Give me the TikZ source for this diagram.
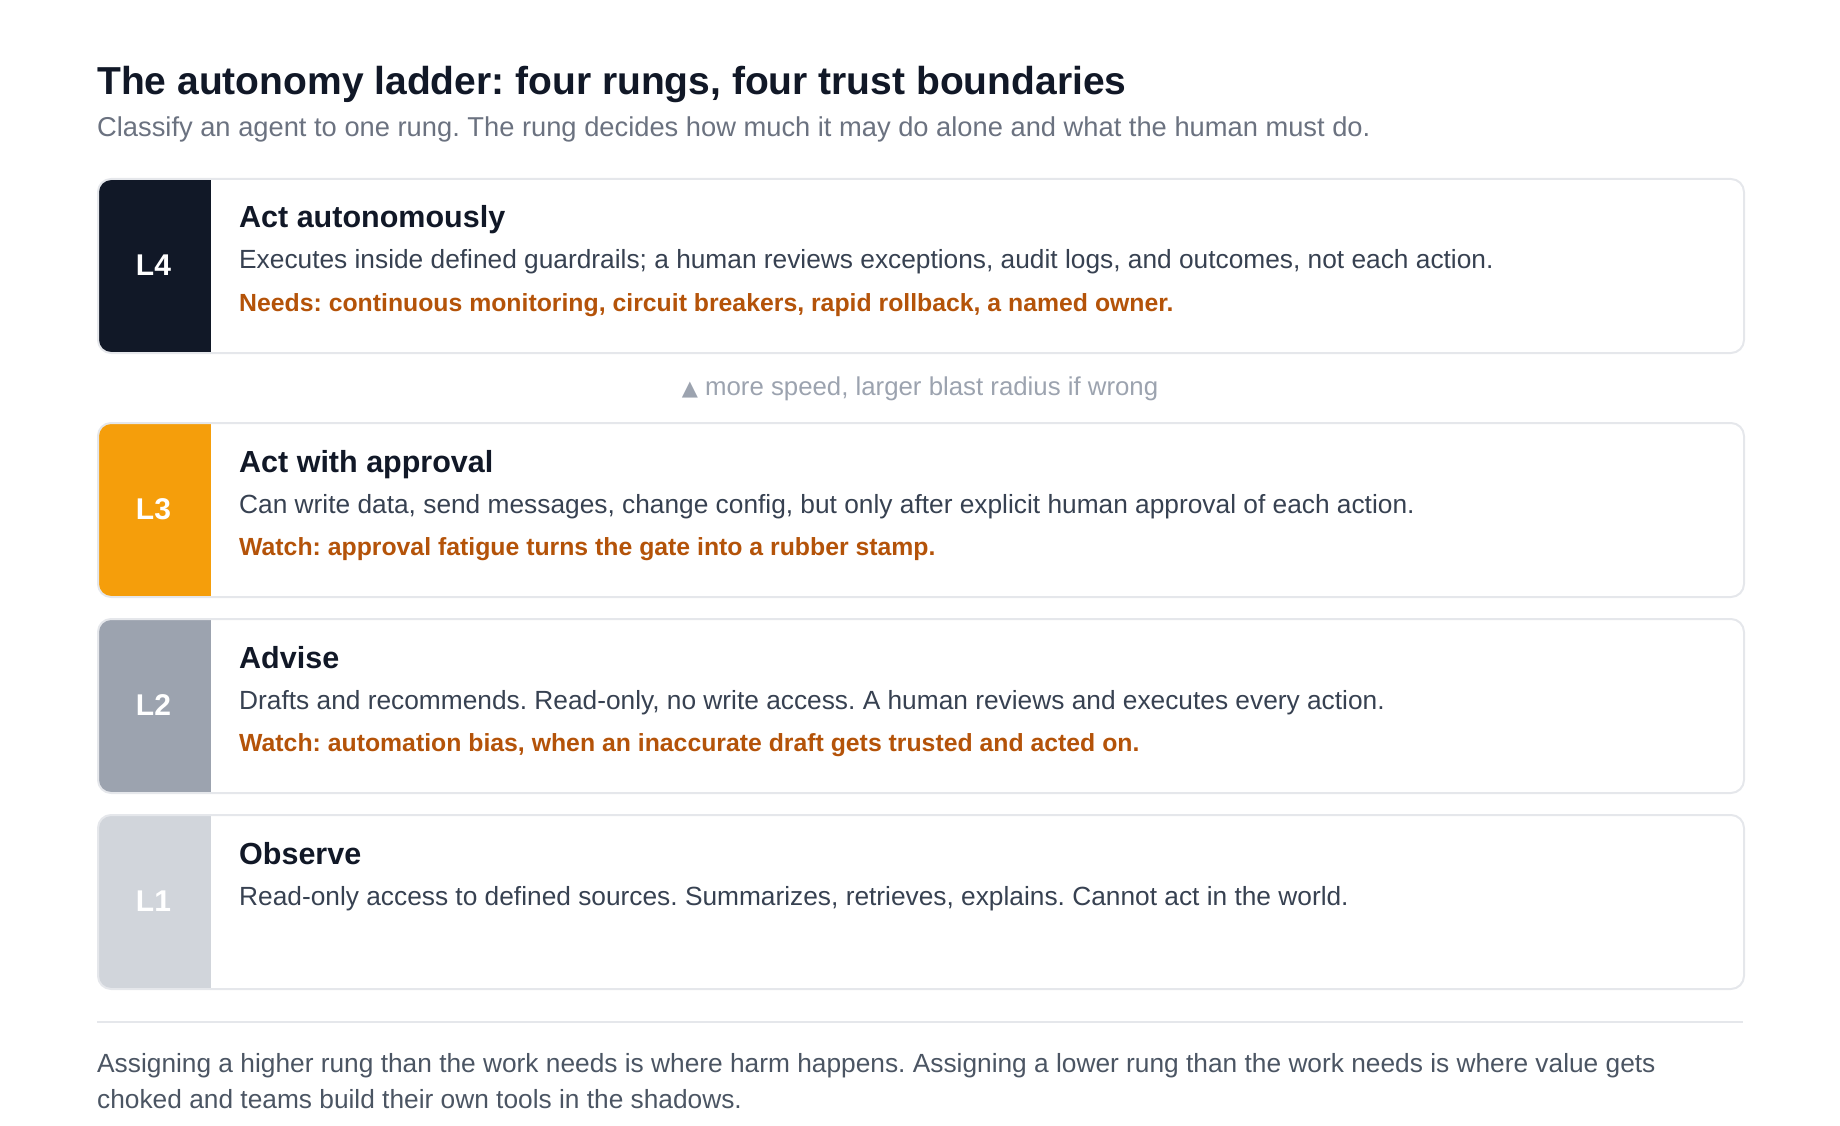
\documentclass[tikz,border=0pt]{standalone}
\usepackage{fontspec}
\setmainfont{Liberation Sans}
\newfontfamily\symfont{DejaVu Sans}
\frenchspacing
\definecolor{ink}{HTML}{111827}
\definecolor{body}{HTML}{374151}
\definecolor{muted}{HTML}{6B7280}
\definecolor{faint}{HTML}{9CA3AF}
\definecolor{foot}{HTML}{4B5563}
\definecolor{warn}{HTML}{B45309}
\definecolor{rungrule}{HTML}{E5E7EB}
\definecolor{tagfour}{HTML}{111827}
\definecolor{tagthree}{HTML}{F59E0B}
\definecolor{tagtwo}{HTML}{9CA3AF}
\definecolor{tagone}{HTML}{D1D5DB}
\begin{document}
\begin{tikzpicture}
[x=1pt,y=-1pt,%
  rungbox/.style={draw=rungrule,line width=2pt,rounded corners=13pt,
    minimum width=1646pt,minimum height=174pt,anchor=north west,inner sep=0pt},%
  tagtext/.style={font=\fontsize{30}{36}\selectfont\bfseries,text=white,inner sep=0pt},%
  headtext/.style={anchor=base west,inner sep=0pt,
    font=\fontsize{30.5}{36}\selectfont\bfseries,text=ink},%
  desctext/.style={anchor=base west,inner sep=0pt,
    font=\fontsize{26.3}{30}\selectfont,text=body},%
  notetext/.style={anchor=base west,inner sep=0pt,
    font=\fontsize{24.8}{30}\selectfont\bfseries,text=warn},%
  plaintext/.style={inner sep=0pt,font=\fontsize{26.3}{30}\selectfont}]
\useasboundingbox (0,0) rectangle (1840,1126);
%% heading
\node (title) at (97,95) [anchor=base west,inner sep=0pt,
  font=\fontsize{39}{46}\selectfont\bfseries,text=ink]
  {The autonomy ladder: four rungs, four trust boundaries};
\node (subtitle) at (97,137) [anchor=base west,inner sep=0pt,
  font=\fontsize{27.3}{30}\selectfont,text=muted]
  {Classify an agent to one rung. The rung decides how much it may do alone and what the human must do.};
%% rungs, top to bottom
\foreach \nodename/\top/\col/\head/\desc/\note in {
  4/178/tagfour/{Act autonomously}/{Executes inside defined guardrails; a human reviews exceptions, audit logs, and outcomes, not each action.}/{Needs: continuous monitoring, circuit breakers, rapid rollback, a named owner.},
  3/422/tagthree/{Act with approval}/{Can write data, send messages, change config, but only after explicit human approval of each action.}/{Watch: approval fatigue turns the gate into a rubber stamp.},
  2/618/tagtwo/{Advise}/{Drafts and recommends. Read-only, no write access. A human reviews and executes every action.}/{Watch: automation bias, when an inaccurate draft gets trusted and acted on.},
  1/814/tagone/{Observe}/{Read-only access to defined sources. Summarizes, retrieves, explains. Cannot act in the world.}/{}} {
  \node (rung\nodename) at (97,\top) [rungbox,
    path picture={\fill[\col,sharp corners] (path picture bounding box.north west)
      rectangle ([xshift=113pt]path picture bounding box.south west);}] {};
  \node (tag\nodename) at (153.5,\top+87) [tagtext] {L\nodename};
  \node (head\nodename) at (239,\top+50) [headtext] {\head};
  \node (desc\nodename) at (239,\top+91) [desctext] {\desc};
  \node (note\nodename) at (239,\top+133) [notetext] {\note};
}
%% direction hint between L4 and L3
\node (hint) at (920,395) [plaintext,anchor=base,text=faint,
  font=\fontsize{25.8}{30}\selectfont]
  {{\symfont\fontsize{21}{24}\selectfont ▲} more speed, larger blast radius if wrong};
%% closing remark
\coordinate (ruleL) at (97,1022);
\coordinate (ruleR) at (1743,1022);
\draw[rungrule,line width=2pt] (ruleL) -- (ruleR);
\node (footA) at (97,1072) [plaintext,anchor=base west,text=foot]
  {Assigning a higher rung than the work needs is where harm happens. Assigning a lower rung than the work needs is where value gets};
\node (footB) at (97,1108) [plaintext,anchor=base west,text=foot]
  {choked and teams build their own tools in the shadows.};
\end{tikzpicture}
\end{document}
